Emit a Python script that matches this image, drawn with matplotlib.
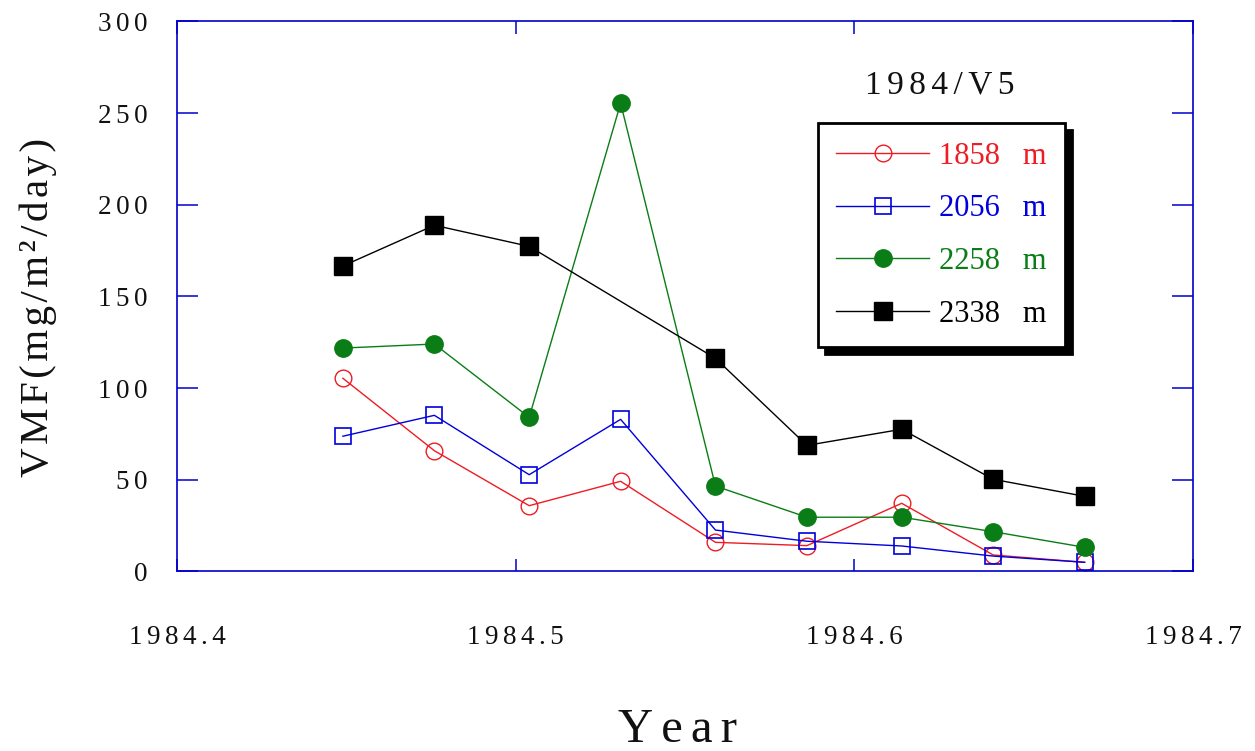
import matplotlib
matplotlib.use("Agg")
import matplotlib.pyplot as plt
from matplotlib.ticker import FixedLocator, FuncFormatter

# Sampling dates (decimal year), one trap collection every ten days
year = [1984.449, 1984.476, 1984.504, 1984.531, 1984.559,
        1984.586, 1984.614, 1984.641, 1984.668]
# The deepest trap has no sample for the fourth collection
year_2338 = [1984.449, 1984.476, 1984.504, 1984.559,
             1984.586, 1984.614, 1984.641, 1984.668]

vmf_1858 = [105.3, 65.8, 35.8, 49.1, 15.8, 14.0, 37.1, 8.9, 4.9]
vmf_2056 = [73.7, 85.1, 52.7, 82.9, 22.5, 16.4, 13.8, 8.3, 4.9]
vmf_2258 = [121.8, 124.0, 84.0, 255.4, 46.5, 29.5, 29.5, 21.6, 13.1]
vmf_2338 = [166.6, 188.8, 177.3, 116.2, 68.7, 77.5, 50.2, 40.9]

x_ticks = [1984.4, 1984.5, 1984.6, 1984.7]
y_ticks = [0, 50, 100, 150, 200, 250, 300]

SERIF = ["Liberation Serif", "DejaVu Serif"]
plt.rcParams["font.family"] = SERIF

HAIR = "\u200a"
SIXTH = "\u2006"


def spaced(s, gap=SIXTH):
    return gap.join(s)


RED = "#ee1c24"
BLUE = "#0000dd"
GREEN = "#0a7d16"
BLACK = "#000000"
FRAME = "#0000cc"
INK = "#111111"

fig = plt.figure(figsize=(12.55, 7.51), dpi=100)
ax = fig.add_axes([0.1410, 0.2393, 0.8096, 0.7321])

ax.plot(year, vmf_1858, color=RED, lw=1.0, marker="o", ms=12,
        mfc="none", mec=RED, mew=1.0, label="1858   m")
ax.plot(year, vmf_2056, color=BLUE, lw=1.0, marker="s", ms=11.5,
        mfc="none", mec=BLUE, mew=1.2, label="2056   m")
ax.plot(year, vmf_2258, color=GREEN, lw=1.0, marker="o", ms=12.5,
        mfc=GREEN, mec=GREEN, label="2258   m")
ax.plot(year_2338, vmf_2338, color=BLACK, lw=1.0, marker="s", ms=12.5,
        mfc=BLACK, mec=BLACK, label="2338   m")

ax.set_xlim(1984.4, 1984.7)
ax.set_ylim(0, 300)
ax.xaxis.set_major_locator(FixedLocator(x_ticks))
ax.yaxis.set_major_locator(FixedLocator(y_ticks))
ax.xaxis.set_major_formatter(FuncFormatter(lambda v, _: spaced(f"{v:.1f}")))
ax.yaxis.set_major_formatter(FuncFormatter(lambda v, _: spaced(f"{v:.0f}")))

for side in ax.spines.values():
    side.set_color(FRAME)
    side.set_linewidth(1.2)

ax.tick_params(axis="x", which="major", direction="in", top=True,
               length=9, width=1.1, color=FRAME, pad=39, labelsize=19.5,
               labelcolor=INK)
ax.tick_params(axis="y", which="major", direction="in", right=True,
               length=15, width=1.1, color=FRAME, pad=21, labelsize=19.5,
               labelcolor=INK)

ax.set_ylabel(spaced("VMF(mg/m²/day)", HAIR), fontsize=29.5, color=INK)
ax.yaxis.set_label_coords(-0.118, 0.48)

fig.text(677 / 1255, 1 - 742 / 751, spaced("Year"), fontsize=35,
         ha="center", va="baseline", color=INK)

ax.text(0.751, 0.8845, spaced("1984/V5"), transform=ax.transAxes,
        ha="center", va="center", fontsize=24, color=INK)

leg = ax.legend(loc="upper left", bbox_to_anchor=(0.631, 0.815),
                borderaxespad=0, fontsize=22, labelcolor="linecolor",
                handlelength=3.04, handletextpad=0.33, borderpad=0.6,
                labelspacing=0.78, fancybox=False, framealpha=1,
                edgecolor="black",
                shadow={"ox": 5, "oy": -5, "color": "black", "alpha": 1})
leg.get_frame().set_linewidth(2.0)

fig.savefig("out.png", dpi=100)
